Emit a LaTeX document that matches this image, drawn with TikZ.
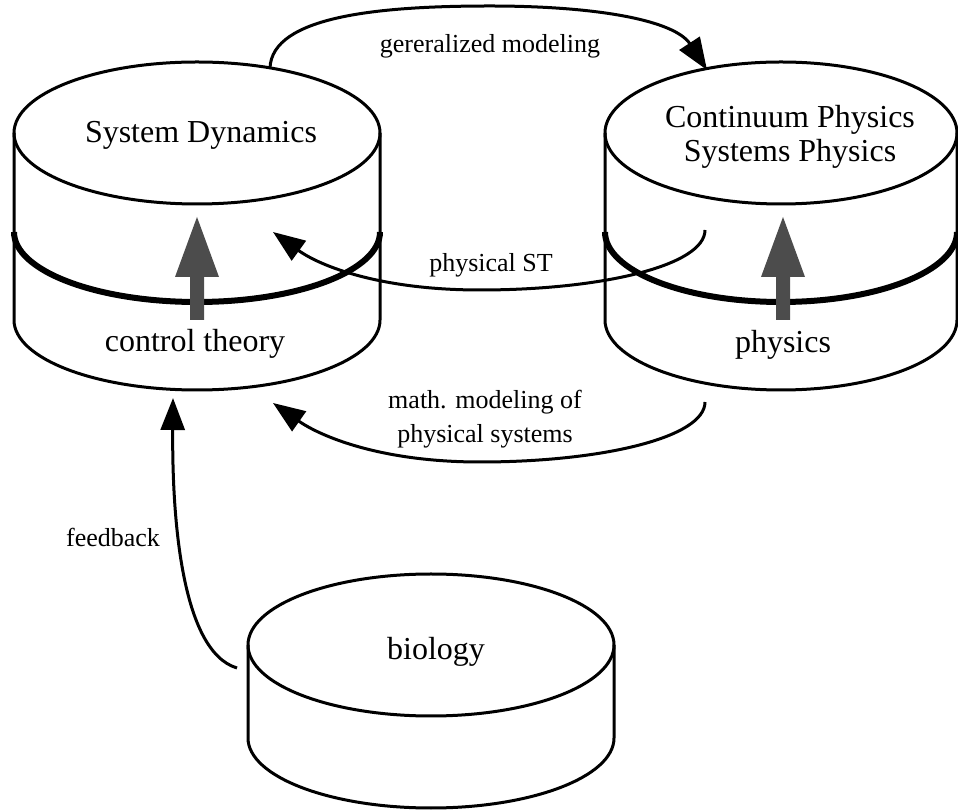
\documentclass[tikz,border=0pt]{standalone}
\usepackage{fontspec}
\setmainfont{Liberation Serif}
\usetikzlibrary{positioning}
\usetikzlibrary{arrows.meta}

\tikzset{
  rim/.style={line width=3pt},
  band/.style={line width=6pt},
  flow/.style={line width=3pt, -{Triangle[length=32pt, width=24pt]}},
  liftfill/.style={fill=black!70},
  drumtext/.style={font=\fontsize{32}{34}\selectfont, align=center},
  flowtext/.style={font=\fontsize{26}{34}\selectfont, align=center},
}

\newcommand{\drum}[4]{%
  \draw[rim] (#1,#2) ellipse [x radius=#4pt, y radius=71pt];
  \draw[rim] (#1-#4,#2) -- (#1-#4,#2-#3)
    arc [start angle=180, end angle=360, x radius=#4pt, y radius=70pt]
    -- (#1+#4,#2);
}
\newcommand{\drumband}[3]{%
  \draw[band] (#1-#3,#2) arc [start angle=180, end angle=360, x radius=#3pt, y radius=70pt];
}
\newcommand{\liftarrow}[1]{%
  \fill[liftfill] (#1,594) -- (#1+22,534) -- (#1+7,534) -- (#1+7,491)
    -- (#1-7,491) -- (#1-7,534) -- (#1-22,534) -- cycle;
}

\begin{document}
\begin{tikzpicture}[x=1pt, y=1pt]
\useasboundingbox (0,0) rectangle (958,811);

\drum{197}{678}{187}{183}
\drumband{197}{579}{183}
\liftarrow{197}

\drum{781}{678}{187}{176}
\drumband{781}{579}{176}
\liftarrow{783}

\drum{431}{166}{93}{183}

\node (SD) [drumtext, anchor=base] at (201,668) {System Dynamics};
\node (CP) [drumtext] at (790,674) {Continuum Physics\\Systems Physics};
\node (CT) [drumtext, anchor=base] at (195,459) {control theory};
\node (PH) [drumtext, anchor=base] at (783,458) {physics};
\node (BIO) [drumtext, anchor=base] at (436,151) {biology};

\node (GM) [flowtext, anchor=base] at (490,758) {gereralized modeling};
\node (PST) [flowtext, anchor=base] at (491,539) {physical ST};
\node (MM) [flowtext] at (485,392) {math. modeling of\\physical systems};
\node (FB) [flowtext, anchor=base] at (113,264) {feedback};

\coordinate (G0) at (270,743);
\coordinate (G1) at (707,741);
\coordinate (P0) at (705,581);
\coordinate (P1) at (273,579);
\coordinate (M0) at (705,409);
\coordinate (M1) at (273,408);
\coordinate (F0) at (237,143);
\coordinate (F1) at (173,413);

\draw[flow] (G0) .. controls (272,795) and (380,805) .. (490,805)
  .. controls (600,805) and (675,790) .. (G1);
\draw[flow] (P0) .. controls (705,545) and (600,521) .. (480,521)
  .. controls (380,521) and (320,545) .. (P1);
\draw[flow] (M0) .. controls (705,373) and (600,349) .. (480,349)
  .. controls (380,349) and (320,375) .. (M1);
\draw[flow] (F0) .. controls (180,160) and (172,300) .. (F1);
\end{tikzpicture}
\end{document}
